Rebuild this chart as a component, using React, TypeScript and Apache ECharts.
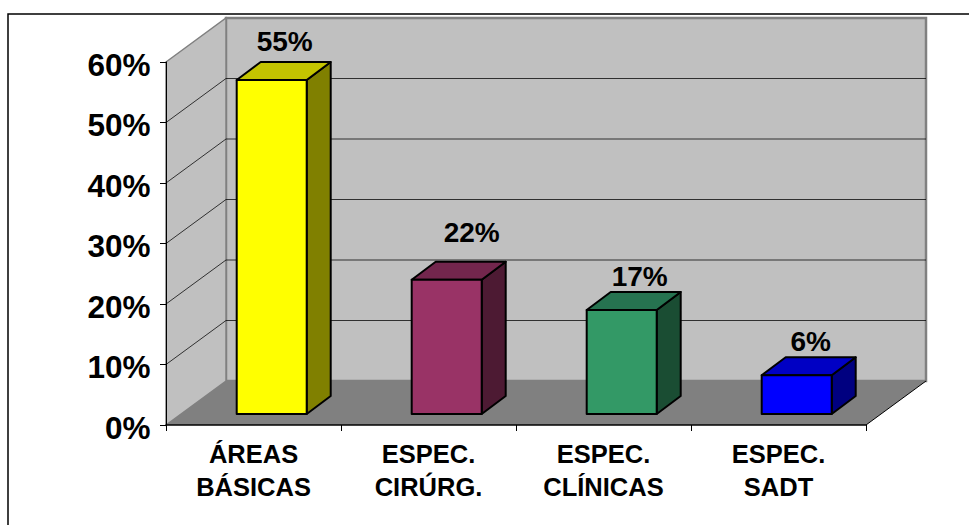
import React, { useEffect, useRef } from "react";
import * as echarts from "echarts";

const categories = ["ÁREAS\nBÁSICAS", "ESPEC.\nCIRÚRG.", "ESPEC.\nCLÍNICAS", "ESPEC.\nSADT"];
const values = [55.2, 22.2, 17.2, 6.4];
const valueLabels = ["55%", "22%", "17%", "6%"];
const yTicks = [0, 10, 20, 30, 40, 50, 60];

const frontColors = ["#FFFF00", "#993366", "#339966", "#0000FF"];
const topColors = ["#C4C400", "#73264D", "#267350", "#0000C4"];
const sideColors = ["#808000", "#4D1A33", "#1A4D33", "#000080"];
const labelLift = [21, 29, 15, 16];
const labelShift = [0, 12, 5, 1];

const FONT = '"Liberation Sans", Arial, sans-serif';
const WALL_DX = 60;
const WALL_DY = -44;
const BAR_DX = 18.2;
const BAR_DY = -11;
const DEPTH_X = 24;
const DEPTH_Y = -18;
const BAR_W = 70;

function renderWalls(params: any, api: any) {
  const cs = params.coordSys;
  const left = cs.x;
  const right = cs.x + cs.width;
  const bottom = cs.y + cs.height;
  const backTop = cs.y + WALL_DY;
  const children: any[] = [
    {
      type: "polygon",
      shape: { points: [[left + WALL_DX, backTop], [right + WALL_DX, backTop], [right + WALL_DX, bottom + WALL_DY], [left + WALL_DX, bottom + WALL_DY]] },
      style: { fill: "#C0C0C0", stroke: "#808080", lineWidth: 2.5 },
    },
    {
      type: "polygon",
      shape: { points: [[left, cs.y], [left + WALL_DX, backTop], [left + WALL_DX, bottom + WALL_DY], [left, bottom]] },
      style: { fill: "#C0C0C0", stroke: "#808080", lineWidth: 1.5 },
    },
    {
      type: "polygon",
      shape: { points: [[left, bottom], [left + WALL_DX, bottom + WALL_DY], [right + WALL_DX, bottom + WALL_DY], [right, bottom]] },
      style: { fill: "#808080" },
    },
    {
      type: "line",
      shape: { x1: right, y1: bottom, x2: right + WALL_DX, y2: bottom + WALL_DY },
      style: { stroke: "#000000", lineWidth: 1 },
    },
  ];
  yTicks.slice(1, -1).forEach((t) => {
    const y = api.coord([0, t])[1];
    children.push({
      type: "polyline",
      shape: { points: [[left, y], [left + WALL_DX, y + WALL_DY], [right + WALL_DX, y + WALL_DY]] },
      style: { fill: "none", stroke: "#000000", lineWidth: 1, opacity: 0.75 },
    });
  });
  return { type: "group", children };
}

function renderBar(params: any, api: any) {
  const i = api.value(0);
  const v = api.value(1);
  const c = api.coord([i, v]);
  const base = api.coord([i, 0]);
  const x0 = c[0] + BAR_DX - BAR_W / 2;
  const x1 = x0 + BAR_W;
  const yTop = c[1] + BAR_DY;
  const yBot = base[1] + BAR_DY;
  const line = { stroke: "#000000", lineWidth: 2, lineJoin: "round" };
  return {
    type: "group",
    children: [
      {
        type: "polygon",
        shape: { points: [[x1, yTop], [x1 + DEPTH_X, yTop + DEPTH_Y], [x1 + DEPTH_X, yBot + DEPTH_Y], [x1, yBot]] },
        style: { fill: sideColors[i], ...line },
      },
      {
        type: "polygon",
        shape: { points: [[x0, yTop], [x0 + DEPTH_X, yTop + DEPTH_Y], [x1 + DEPTH_X, yTop + DEPTH_Y], [x1, yTop]] },
        style: { fill: topColors[i], ...line },
      },
      {
        type: "polygon",
        shape: { points: [[x0, yTop], [x1, yTop], [x1, yBot], [x0, yBot]] },
        style: { fill: frontColors[i], ...line },
      },
      {
        type: "text",
        style: {
          x: (x0 + x1) / 2 + 13 + labelShift[i],
          y: yTop + DEPTH_Y - labelLift[i],
          text: valueLabels[i],
          fill: "#000000",
          font: `bold 28px ${FONT}`,
          textAlign: "center",
          textVerticalAlign: "middle",
        },
      },
    ],
  };
}

export default function App() {
  const ref = useRef<HTMLDivElement>(null);
  useEffect(() => {
    document.body.style.margin = "0";
    const chart = echarts.init(ref.current!, undefined, { renderer: "svg" });
    chart.setOption({
      animation: false,
      backgroundColor: "#FFFFFF",
      textStyle: { fontFamily: FONT },
      grid: { left: 166, right: 103, top: 62, bottom: 100, containLabel: false },
      xAxis: {
        type: "category",
        data: categories,
        z: 10,
        axisLine: { lineStyle: { color: "#000000", width: 1.5 } },
        axisTick: { show: true, length: 6, alignWithLabel: false, lineStyle: { color: "#000000", width: 1 } },
        axisLabel: { color: "#000000", fontFamily: FONT, fontWeight: "bold", fontSize: 25.5, lineHeight: 33, margin: 12, interval: 0 },
        splitLine: { show: false },
      },
      yAxis: {
        type: "value",
        min: 0,
        max: 60,
        interval: 10,
        z: 10,
        axisLine: { show: true, lineStyle: { color: "#000000", width: 1 } },
        axisTick: { show: true, length: 6, lineStyle: { color: "#000000", width: 1 } },
        axisLabel: {
          margin: 15.5,
          formatter: "{v|{value}%}",
          rich: {
            v: { color: "#000000", fontFamily: FONT, fontWeight: "bold", fontSize: 31.5, lineHeight: 34, padding: [5, 0, 0, 0] },
          },
        },
        splitLine: { show: false },
      },
      graphic: [
        {
          type: "polyline",
          shape: { points: [[8, 525], [8, 14], [969, 14]] },
          style: { fill: "none", stroke: "#000000", lineWidth: 1.5 },
        },
      ],
      series: [
        { type: "custom", z: 1, silent: true, data: [[0, 0]], renderItem: renderWalls, encode: { x: 0, y: 1 } },
        {
          type: "custom",
          z: 2,
          silent: true,
          data: values.map((v, i) => [i, v]),
          renderItem: renderBar,
          encode: { x: 0, y: 1 },
        },
      ],
    });
    return () => chart.dispose();
  }, []);
  return <div ref={ref} style={{ position: "fixed", left: 0, top: 0, width: 969, height: 525 }} />;
}
